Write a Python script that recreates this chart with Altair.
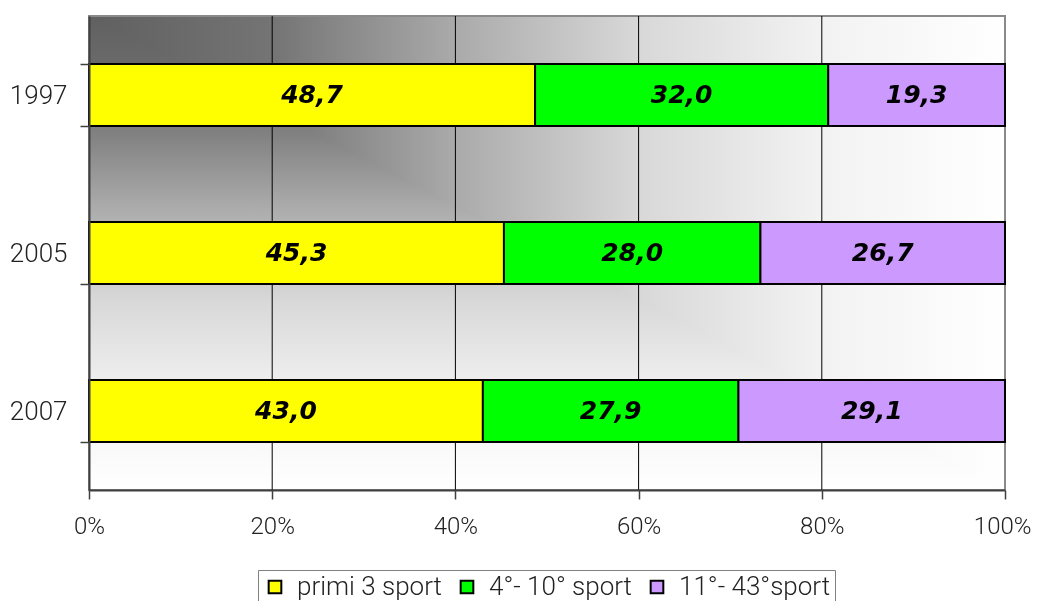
import altair as alt
import pandas as pd

years = ["1997", "2005", "2007"]
groups = ["primi 3 sport", "4°- 10° sport", "11°- 43°sport"]
primi = [48.7, 45.3, 43.0]
mid = [32.0, 28.0, 27.9]
rest = [19.3, 26.7, 29.1]
colors = ["#FFFF00", "#00FF00", "#CC99FF"]
x_ticks = [0, 20, 40, 60, 80, 100]

rows = []
for i, yr in enumerate(years):
    for j, (g, vals) in enumerate(zip(groups, [primi, mid, rest])):
        rows.append({"year": yr, "group": g, "order": j, "value": vals[i]})
df = pd.DataFrame(rows)
grid_df = pd.DataFrame({"tick": x_ticks[1:-1]})

AXFONT = "Roboto"
AXW = 300
AXSIZE = 26
stops = [
    alt.GradientStop(color="#606060", offset=0),
    alt.GradientStop(color="#747474", offset=0.2),
    alt.GradientStop(color="#aaaaaa", offset=0.4),
    alt.GradientStop(color="#d8d8d8", offset=0.6),
    alt.GradientStop(color="#f2f2f2", offset=0.8),
    alt.GradientStop(color="#ffffff", offset=1),
]
hgrad = alt.LinearGradient(gradient="linear", stops=stops, x1=0, x2=1, y1=0, y2=0)
vgrad = alt.LinearGradient(gradient="linear", stops=stops, x1=0, x2=0, y1=0, y2=1)

bg_data = alt.InlineData(values=[{"bg": 1}])
full = dict(x=alt.value(0), x2=alt.value("width"), y=alt.value(0), y2=alt.value("height"))
bg1 = alt.Chart(bg_data).mark_rect(fill=hgrad, strokeWidth=0).encode(**full)
bg2 = alt.Chart(bg_data).mark_rect(fill=vgrad, strokeWidth=0, blend="lighten").encode(**full)
frame = alt.Chart(bg_data).mark_rect(fillOpacity=0, stroke="#8a8a8a", strokeWidth=2).encode(**full)

xscale = alt.Scale(domain=[0, 100], nice=False)
yenc = alt.Y(
    "year:N",
    sort=years,
    scale=alt.Scale(paddingInner=0.608, paddingOuter=0.304),
    axis=alt.Axis(
        title=None, tickBand="extent", tickSize=9, tickColor="#404040", tickWidth=1.5,
        domainColor="#404040", domainWidth=2, labelFont=AXFONT, labelFontSize=AXSIZE,
        labelFontWeight=AXW, labelPadding=13, labelColor="#222222", zindex=1, grid=False,
    ),
)

grid = alt.Chart(grid_df).mark_rule(color="black", strokeWidth=1).encode(
    x=alt.X("tick:Q", scale=xscale)
)

base = alt.Chart(df).transform_stack(
    stack="value", as_=["v0", "v1"], groupby=["year"],
    sort=[alt.SortField("order", order="ascending")],
).transform_calculate(
    mid="(datum.v0 + datum.v1) / 2",
    label="replace(format(datum.value, '.1f'), '.', ',')",
)

bars = base.mark_bar(stroke="black", strokeWidth=2).encode(
    y=yenc,
    x=alt.X(
        "v0:Q", scale=xscale,
        axis=alt.Axis(
            values=x_ticks, labelExpr="datum.value + '%'", grid=False, title=None,
            tickColor="#404040", tickSize=9, tickWidth=1.5, domainColor="#404040", domainWidth=2,
            labelFont=AXFONT, labelFontSize=24, labelFontWeight=AXW, labelColor="#222222",
            labelPadding=15, labelFlush=False, labelOverlap=False, zindex=1,
            labelAlign={"condition": {"test": "datum.value == 100", "value": "right"}, "value": "center"},
            labelOffset={"condition": {"test": "datum.value == 100", "value": 26}, "value": 0},
        ),
    ),
    x2="v1:Q",
    color=alt.Color(
        "group:N",
        scale=alt.Scale(domain=groups, range=colors),
        sort=groups,
        legend=alt.Legend(
            orient="none", legendX=169, legendY=554, direction="horizontal", title=None,
            symbolType="square", symbolSize=160, symbolStrokeColor="black", symbolStrokeWidth=2,
            symbolOpacity=1, labelFont=AXFONT, labelFontSize=AXSIZE, labelFontWeight=AXW,
            labelColor="#222222", strokeColor="#808080", padding=4, columnPadding=12,
            labelOffset=9, labelLimit=400,
        ),
    ),
)

text = base.mark_text(
    font="DejaVu Sans", fontWeight="bold", fontStyle="italic", fontSize=25, color="black"
).encode(y=yenc, x=alt.X("mid:Q", scale=xscale), text="label:N")

chart = alt.layer(bg1, bg2, frame, grid, bars, text).properties(
    width=916, height=474,
    autosize=alt.AutoSizeParams(type="none"),
    padding={"left": 81, "top": 8, "right": 27, "bottom": 111},
).configure_view(strokeWidth=0)

chart.save("out.html", embed_options={"renderer": "svg", "actions": False})
